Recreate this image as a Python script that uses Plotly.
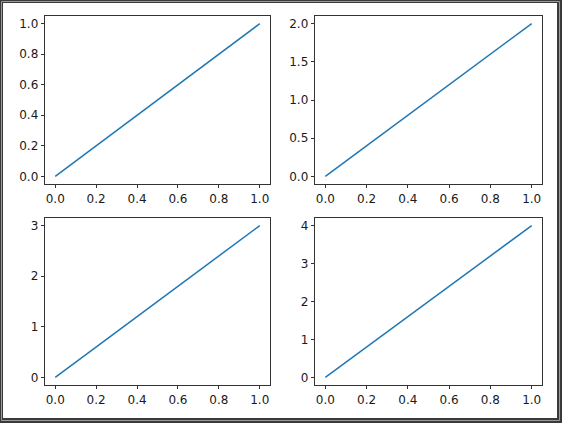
import plotly.graph_objects as go
from plotly.subplots import make_subplots

# data
x_vals = [0, 1]
series = {
    1: [0, 1],
    2: [0, 2],
    3: [0, 3],
    4: [0, 4],
}
x_ticks = [0.0, 0.2, 0.4, 0.6, 0.8, 1.0]
y_ticks = {
    1: [0.0, 0.2, 0.4, 0.6, 0.8, 1.0],
    2: [0.0, 0.5, 1.0, 1.5, 2.0],
    3: [0, 1, 2, 3],
    4: [0, 1, 2, 3, 4],
}
y_fmt = {1: ".1f", 2: ".1f", 3: "d", 4: "d"}

W, H = 562, 423
fig = make_subplots(rows=2, cols=2)

xdom = [(45 / W, 270 / W), (315 / W, 542 / W)]
ydom = [((H - 184) / H, (H - 16) / H), ((H - 385) / H, (H - 218) / H)]

font = dict(family="DejaVu Sans", size=12, color="#1a1a1a")
for i in range(1, 5):
    r = (i - 1) // 2 + 1
    c = (i - 1) % 2 + 1
    k = series[i][-1]
    fig.add_trace(go.Scatter(x=x_vals, y=series[i], mode="lines",
                             line=dict(color="#1f77b4", width=1.5),
                             showlegend=False, hoverinfo="skip"), row=r, col=c)
    fig.update_xaxes(domain=list(xdom[c - 1]), range=[-0.05, 1.05],
                     tickvals=x_ticks, tickformat=".1f",
                     ticks="outside", ticklen=3.5, tickwidth=0.8, tickcolor="black",
                     showline=True, linecolor="black", linewidth=0.8, mirror=True,
                     showgrid=False, zeroline=False, tickfont=font, automargin=False,
                     row=r, col=c)
    fig.update_yaxes(domain=list(ydom[r - 1]), range=[-0.05 * k, 1.05 * k],
                     tickvals=y_ticks[i], tickformat=y_fmt[i],
                     ticks="outside", ticklen=3.5, tickwidth=0.8, tickcolor="black",
                     showline=True, linecolor="black", linewidth=0.8, mirror=True,
                     showgrid=False, zeroline=False, tickfont=font, automargin=False,
                     row=r, col=c)

# frame around the picture
def px_rect(x0, y0, x1, y1, **kw):
    fig.add_shape(type="rect", xref="paper", yref="paper",
                  x0=x0 / W, x1=x1 / W, y0=(H - y1) / H, y1=(H - y0) / H, **kw)

dark = "#3a3a3a"
px_rect(0, 0, W, 3, fillcolor=dark, line_width=0, layer="above")
px_rect(0, 0, 3, H, fillcolor=dark, line_width=0, layer="above")
px_rect(0, 418, W, H, fillcolor=dark, line_width=0, layer="above")
px_rect(557, 0, W, H, fillcolor=dark, line_width=0, layer="above")
px_rect(1.5, 1.5, 559.5, 420.5, line=dict(color="#9a9a9a", width=1), layer="above")

fig.update_layout(width=W, height=H, margin=dict(l=0, r=0, t=0, b=0),
                  paper_bgcolor="white", plot_bgcolor="white")
fig.write_html("out.html", config={"displayModeBar": False, "staticPlot": True},
               post_script="document.body.style.margin='0';document.body.style.padding='0';")
